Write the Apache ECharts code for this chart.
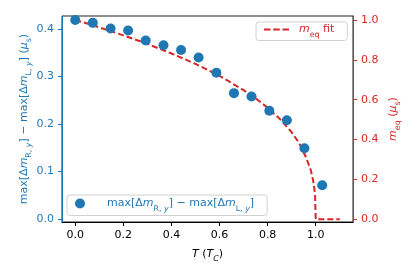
<!DOCTYPE html>
<html><head><meta charset="utf-8">
<script src="https://cdn.jsdelivr.net/npm/echarts@6/dist/echarts.min.js"></script>
<style>html,body{margin:0;padding:0;background:#fff}#c{width:415px;height:277px}</style>
</head><body><div id="c"></div>
<script>
// Scatter data: temperature (T_C) and max[Δm_R,y] - max[Δm_L,y] (μ_s)
const tempT = [0, 0.073, 0.147, 0.22, 0.293, 0.367, 0.44, 0.513, 0.587, 0.66, 0.733, 0.807, 0.88, 0.953, 1.027];
const diffVals = [0.419, 0.413, 0.401, 0.397, 0.376, 0.366, 0.356, 0.340, 0.308, 0.265, 0.258, 0.228, 0.208, 0.149, 0.071];
// m_eq fit curve
const fitT = [0, 0.05, 0.1, 0.2, 0.3, 0.4, 0.5, 0.6, 0.7, 0.75, 0.8, 0.85, 0.9, 0.93, 0.96, 0.98, 0.99, 0.997, 1.0, 1.1];
const fitVals = [1.0, 0.982, 0.963, 0.923, 0.880, 0.832, 0.780, 0.720, 0.648, 0.607, 0.560, 0.505, 0.436, 0.385, 0.31, 0.245, 0.19, 0.13, 0, 0];
// tick labels
const xTicks = [0, 0.2, 0.4, 0.6, 0.8, 1.0];
const leftTicks = [0, 0.1, 0.2, 0.3, 0.4];
const rightTicks = [0, 0.2, 0.4, 0.6, 0.8, 1.0];

const BLUE = '#1f77b4', RED = '#d62728';
const FONT = 'DejaVu Sans';
function rich(color, fs) {
  return {
    t: {fontFamily: FONT, fontSize: fs, color: color, lineHeight: 18, verticalAlign: 'middle'},
    i: {fontFamily: FONT, fontStyle: 'italic', fontSize: fs, color: color, lineHeight: 18, verticalAlign: 'middle'},
    s: {fontFamily: FONT, fontSize: fs * 0.72, color: color, lineHeight: 10, verticalAlign: 'bottom'},
    si: {fontFamily: FONT, fontStyle: 'italic', fontSize: fs * 0.72, color: color, lineHeight: 10, verticalAlign: 'bottom'}
  };
}
const diffLabel = '{t|max[Δ}{i|m}{s|R, }{si|y}{t|] − max[Δ}{i|m}{s|L, }{si|y}{t|]}';

const chart = echarts.init(document.getElementById('c'), null, {renderer: 'canvas'});
chart.setOption({
  animation: false,
  grid: {left: 62, right: 62, top: 16, bottom: 55, show: true, borderColor: '#222', borderWidth: 1, backgroundColor: 'transparent'},
  xAxis: {
    type: 'value', min: -0.055, max: 1.155,
    name: '{i|T}{t| (}{i|T}{si|C}{t|)}', nameLocation: 'middle', nameGap: 23, nameMoveOverlap: false,
    nameTextStyle: {rich: rich('#000', 11)},
    axisLine: {onZero: false, lineStyle: {color: '#000'}},
    axisTick: {customValues: xTicks, length: 4, lineStyle: {color: '#000'}},
    axisLabel: {customValues: xTicks, formatter: v => v.toFixed(1), fontFamily: FONT, fontSize: 11, color: '#000', margin: 8},
    splitLine: {show: false}
  },
  yAxis: [{
    type: 'value', min: -0.0063, max: 0.4274, position: 'left',
    name: diffLabel + '{t| (}{i|μ}{s|s}{t|)}', nameLocation: 'middle', nameRotate: 90, nameGap: 29, nameMoveOverlap: false,
    nameTextStyle: {rich: rich(BLUE, 11)},
    axisLine: {show: true, onZero: false, lineStyle: {color: BLUE}},
    axisTick: {show: true, customValues: leftTicks, length: 4, lineStyle: {color: BLUE}},
    axisLabel: {customValues: leftTicks, formatter: v => v.toFixed(1), fontFamily: FONT, fontSize: 11, color: BLUE, margin: 8},
    splitLine: {show: false}
  }, {
    type: 'value', min: -0.0135, max: 1.02, position: 'right',
    name: '{i|m}{s|eq}{t| (}{i|μ}{s|s}{t|)}', nameLocation: 'middle', nameRotate: 90, nameGap: 31, nameMoveOverlap: false,
    nameTextStyle: {rich: rich(RED, 11)},
    axisLine: {show: true, onZero: false, lineStyle: {color: RED}},
    axisTick: {show: true, customValues: rightTicks, length: 4, lineStyle: {color: RED}},
    axisLabel: {customValues: rightTicks, formatter: v => v.toFixed(1), fontFamily: FONT, fontSize: 11, color: RED, margin: 8},
    splitLine: {show: false}
  }],
  legend: [{
    data: [{name: 'fit', icon: 'path://M0,0h6.5v2h-6.5zM9.25,0h6.5v2h-6.5zM18.5,0h6.5v2h-6.5z', itemStyle: {color: RED}}],
    left: 256, top: 22, orient: 'horizontal',
    padding: [2, 13, 2, 8], itemWidth: 25, itemHeight: 2,
    backgroundColor: 'rgba(255,255,255,0.8)', borderColor: '#d0d0d0', borderWidth: 1, borderRadius: 3,
    formatter: () => '{i|m}{s|eq}{t| fit}',
    textStyle: {padding: [0, 0, 0, 5], rich: rich(RED, 11)}
  }, {
    data: ['diff'], left: 67, top: 195, orient: 'horizontal',
    padding: [3, 13, 3, 8], itemWidth: 18, itemHeight: 10,
    backgroundColor: 'rgba(255,255,255,0.8)', borderColor: '#d0d0d0', borderWidth: 1, borderRadius: 3,
    formatter: () => diffLabel,
    textStyle: {padding: [0, 0, 0, 13], rich: rich(BLUE, 11)}
  }],
  series: [{
    name: 'fit', type: 'line', yAxisIndex: 1, z: 2,
    data: fitT.map((t, i) => [t, fitVals[i]]),
    symbol: 'none', showSymbol: false,
    lineStyle: {color: RED, width: 2, type: [6, 3]},
    itemStyle: {color: RED}
  }, {
    name: 'diff', type: 'scatter', yAxisIndex: 0, z: 3,
    data: tempT.map((t, i) => [t, diffVals[i]]),
    symbol: 'circle', symbolSize: 10,
    itemStyle: {color: BLUE, opacity: 1}
  }]
});
</script></body></html>
